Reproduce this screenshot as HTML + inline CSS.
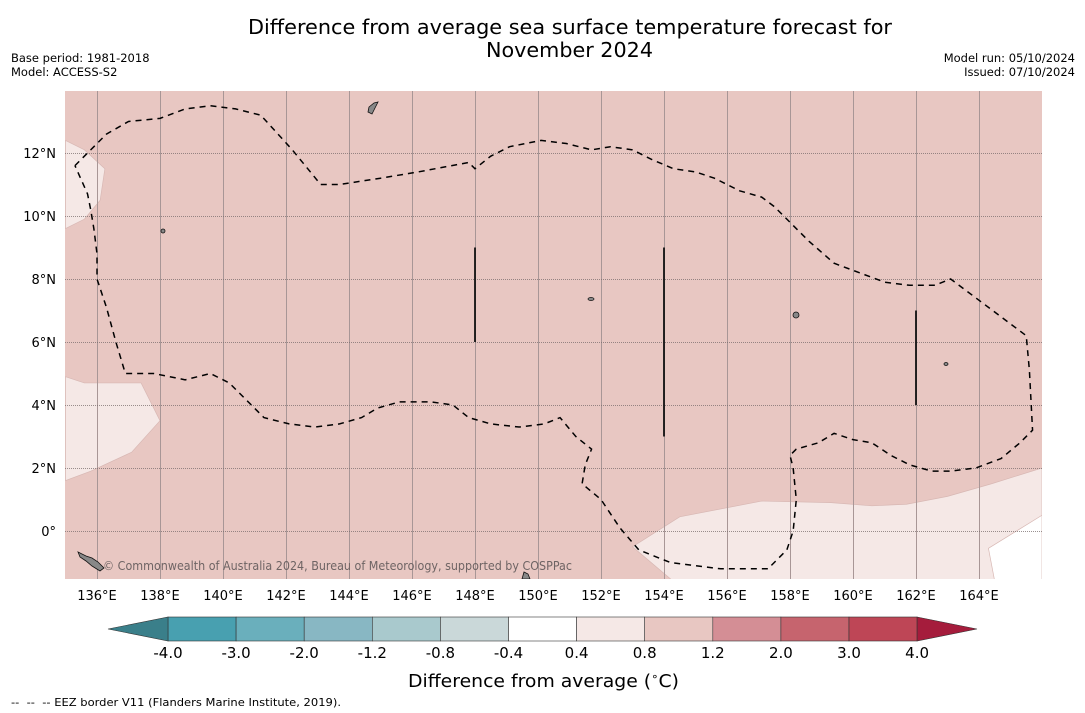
<!DOCTYPE html>
<html><head><meta charset="utf-8"><style>
body{margin:0;background:#fff;width:1085px;height:713px;overflow:hidden;font-family:"DejaVu Sans","Liberation Sans",sans-serif}
svg{display:block}
</style></head><body>
<svg id="chart" width="1085" height="713" viewBox="0 0 1085 713" font-family="DejaVu Sans, Liberation Sans, sans-serif">
<text x="248" y="34" font-size="20.5" textLength="644" lengthAdjust="spacingAndGlyphs">Difference from average sea surface temperature forecast for</text>
<text x="486" y="57" font-size="20.5" textLength="167" lengthAdjust="spacingAndGlyphs">November 2024</text>
<text x="11" y="62" font-size="11.5">Base period: 1981-2018</text>
<text x="11" y="76" font-size="11.5">Model: ACCESS-S2</text>
<text x="1075" y="62" font-size="11.5" text-anchor="end">Model run: 05/10/2024</text>
<text x="1075" y="76" font-size="11.5" text-anchor="end">Issued: 07/10/2024</text>
<defs><clipPath id="mapclip"><rect x="65" y="91" width="977" height="488"/></clipPath></defs>
<g id="map" clip-path="url(#mapclip)">
<rect x="65" y="91" width="977" height="488" fill="#e8c7c2"/>
<g id="regions"></g><g id="grid"></g><g id="contour"></g><g id="bars"></g>
<g fill="#888" stroke="#111" stroke-width="0.8">
<path d="M78,552 L86,556 L92,558 L98,562 L104,568 L100,571 L92,566 L86,561 L80,557Z"/>
<path d="M369,107 L374,103 L378,102 L375,108 L372,114 L368,112Z"/>
<ellipse cx="796" cy="315" rx="3" ry="3"/>
<ellipse cx="591" cy="299" rx="3" ry="1.5"/>
<ellipse cx="163" cy="231" rx="2" ry="2"/>
<ellipse cx="946" cy="364" rx="2" ry="1.5"/>
<path d="M522,579 L524,572 L528,574 L530,579Z"/>
</g>
<text x="103" y="570" font-size="12" fill="#6e6464" textLength="469" lengthAdjust="spacingAndGlyphs">© Commonwealth of Australia 2024, Bureau of Meteorology, supported by COSPPac</text>
</g>
<g id="axes"></g>
<g id="cbar"></g>
<text x="408" y="687" font-size="17.5" textLength="271" lengthAdjust="spacingAndGlyphs">Difference from average (<tspan font-size="11" dy="-7">∘</tspan><tspan dy="7">C)</tspan></text>
<text x="11" y="706" font-size="10.5" textLength="330" lengthAdjust="spacingAndGlyphs">-- &#160;-- &#160;-- EEZ border V11 (Flanders Marine Institute, 2019).</text>
</svg>
<script>
const lonTicks=[136,138,140,142,144,146,148,150,152,154,156,158,160,162,164];
const latTicks=[0,2,4,6,8,10,12];
const cbBounds=[-4.0,-3.0,-2.0,-1.2,-0.8,-0.4,0.4,0.8,1.2,2.0,3.0,4.0];
const cbColors=["#48a0b0","#6aafbc","#88b7c3","#a9c9cd","#cad8d9","#ffffff","#f5e8e6","#e8c7c2","#d48e95","#c6646e","#be4656"];
const cbExtColors=["#3a7f8a","#a51c3c"];
const contourLon=[135.3,135.8,136.3,137.0,138.0,138.8,139.6,140.4,141.2,142.2,143.1,143.7,145.0,146.2,147.8,148.0,148.5,149.1,150.1,150.9,151.7,152.3,153.0,153.6,154.3,155.0,155.6,156.4,157.1,157.5,158.0,158.6,159.4,160.2,161.0,161.8,162.6,163.1,163.9,164.7,165.5,165.6,165.7,165.3,164.7,163.9,163.1,162.5,161.8,161.2,160.6,160.0,159.4,158.9,158.2,158.0,158.1,158.2,158.1,157.9,157.3,155.8,154.2,153.2,152.6,152.0,151.4,151.5,151.7,151.2,150.7,150.2,149.4,148.5,147.8,147.3,146.6,145.6,144.9,144.4,143.7,142.9,142.1,141.3,140.7,140.2,139.6,138.8,137.8,136.9,136.6,136.3,136.0,136.0,135.9,135.8,135.7,135.3];
const contourLat=[11.6,12.1,12.6,13.0,13.1,13.4,13.5,13.4,13.2,12.1,11.0,11.0,11.2,11.4,11.7,11.5,11.9,12.2,12.4,12.3,12.1,12.2,12.1,11.8,11.5,11.4,11.2,10.8,10.6,10.3,9.8,9.2,8.5,8.2,7.9,7.8,7.8,8.0,7.4,6.8,6.2,5.1,3.2,2.8,2.3,2.0,1.9,1.9,2.1,2.4,2.8,2.9,3.1,2.8,2.6,2.4,2.0,1.0,0.0,-0.6,-1.2,-1.2,-1.0,-0.6,0.1,1.0,1.5,2.1,2.6,3.0,3.6,3.4,3.3,3.4,3.6,4.0,4.1,4.1,3.9,3.6,3.4,3.3,3.4,3.6,4.2,4.7,5.0,4.8,5.0,5.0,6.0,7.1,8.0,8.8,9.6,10.2,10.7,11.6];
const W=v=>65.5+(v-135)*31.5, Y=v=>531-v*31.5, CB=i=>168+i*68.1;
const NS="http://www.w3.org/2000/svg";
function mk(tag,attrs,parent){const e=document.createElementNS(NS,tag);for(const k in attrs)e.setAttribute(k,attrs[k]);document.getElementById(parent).appendChild(e);return e;}
const lightA=[[135,12.4],[135.6,12.1],[136.25,11.5],[136.1,10.5],[135.6,9.9],[135,9.6]];
const lightB=[[135,4.9],[135.6,4.7],[137.4,4.7],[138,3.5],[137.1,2.5],[135.8,1.9],[135,1.6]];
const lightC=[[153,-0.5],[154.5,0.45],[157.1,0.95],[159.3,0.9],[160.6,0.8],[161.7,0.85],[163,1.1],[164.4,1.5],[166,2.0],[166,-1.6],[154.3,-1.6]];
const whiteD=[[166,0.5],[164.3,-0.55],[164.5,-1.6],[166,-1.6]];
[[lightA,"#f5e8e6","light-region-west-north"],[lightB,"#f5e8e6","light-region-west-south"],[lightC,"#f5e8e6","light-region-southeast"],[whiteD,"#ffffff","neutral-region-southeast"]].forEach(r=>{
 const p=mk("polygon",{points:r[0].map(q=>W(q[0])+","+Y(q[1])).join(" "),fill:r[1],stroke:"#d8b8b4","stroke-width":0.7},"regions");
 
 
});
lonTicks.forEach(l=>{
 const x=Math.round(W(l))+0.5;
 const g=mk("line",{x1:x,x2:x,y1:91,y2:579,stroke:"#a89696","stroke-width":1},"grid");
 
 
 const t=mk("text",{x:W(l),y:600,"font-size":13,"text-anchor":"middle"},"axes");t.textContent=l+"°E";
 
 
});
latTicks.forEach(l=>{
 const y=Math.round(Y(l))+0.5;
 const g=mk("line",{x1:65,x2:1042,y1:y,y2:y,stroke:"#7a6e6e","stroke-width":0.8,"stroke-dasharray":"1,1"},"grid");
 
 
 const t=mk("text",{x:56,y:Y(l)+5,"font-size":13,"text-anchor":"end"},"axes");t.textContent=l===0?"0°":l+"°N";
 
 
});
const cp=mk("polyline",{points:contourLon.map((l,i)=>W(l)+","+Y(contourLat[i])).join(" "),fill:"none",stroke:"#000","stroke-width":1.5,"stroke-dasharray":"6,5"},"contour");


[[148,9,6],[154,9,3],[162,7,4]].forEach(b=>{
 const l=mk("line",{x1:W(b[0]),x2:W(b[0]),y1:Y(b[1]),y2:Y(b[2]),stroke:"#111","stroke-width":1.8},"bars");
 
 
});
cbColors.forEach((c,i)=>{
 const r=mk("rect",{x:CB(i),y:617,width:68.1,height:24,fill:c,stroke:"#333","stroke-width":0.6},"cbar");
 
 
});
const e1=mk("polygon",{points:`108,629 ${CB(0)},617 ${CB(0)},641`,fill:cbExtColors[0],stroke:"#333","stroke-width":0.6},"cbar");


const n=cbColors.length;
const e2=mk("polygon",{points:`${CB(n)},617 977,629 ${CB(n)},641`,fill:cbExtColors[1],stroke:"#333","stroke-width":0.6},"cbar");


cbBounds.forEach((b,i)=>{
 const t=mk("text",{x:CB(i),y:658,"font-size":15,"text-anchor":"middle"},"cbar");t.textContent=b.toFixed(1);
 
 
});
</script>
</body></html>
